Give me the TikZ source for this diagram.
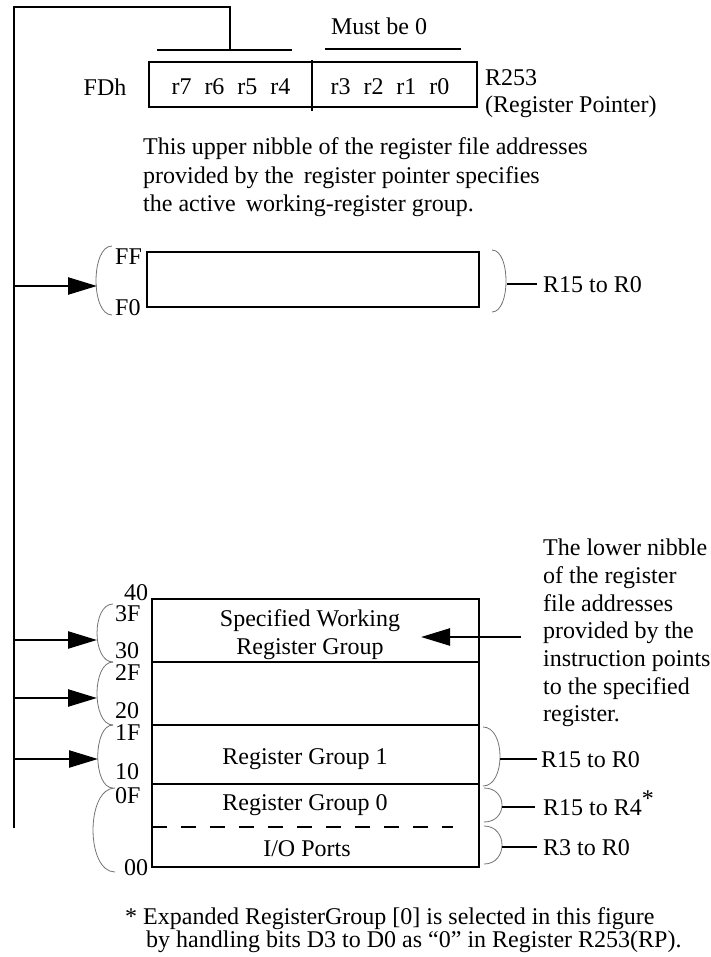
\documentclass[tikz,border=0pt]{standalone}
\usepackage{fontspec}
\setmainfont{Liberation Serif}
\usetikzlibrary{arrows.meta}
\begin{document}
\begin{tikzpicture}[x=1pt,y=-1pt,
  thk/.style={line width=2.4pt},
  paren/.style={line width=0.8pt, draw=black!55},
  arr/.style={thk,-{Triangle[length=29pt,width=17pt]}},
  lbl/.style={inner sep=0pt, anchor=base west, font=\fontsize{24}{28}\selectfont},
  ctr/.style={inner sep=0pt, anchor=base, font=\fontsize{24}{28}\selectfont},
]
\useasboundingbox (0,0) rectangle (711,957);

% main feedback line
\coordinate (lineEnd) at (14,828);
\coordinate (topL) at (14,7);
\coordinate (topR) at (230,7);
\coordinate (barJ) at (230,50);
\draw[thk] (lineEnd) -- (topL) -- (topR) -- (barJ);
\coordinate (b1a) at (157,50); \coordinate (b1b) at (292,50);
\coordinate (b2a) at (325,49); \coordinate (b2b) at (461,49);
\draw[thk] (b1a) -- (b1b);
\draw[thk] (b2a) -- (b2b);
\node[ctr] (must) at (379,35) {Must be 0};

% register pointer
\draw[thk] (149,62) rectangle (477,107);
\coordinate (dv1) at (312,60); \coordinate (dv2) at (312,111);
\draw[thk] (dv1) -- (dv2);
\node[ctr] (fdh) at (105,96) {FDh};
\node[ctr] (hi) at (231,95) {r7\hspace{.54em}r6\hspace{.54em}r5\hspace{.54em}r4};
\node[ctr] (lo) at (390,95) {r3\hspace{.54em}r2\hspace{.54em}r1\hspace{.54em}r0};
\node[lbl] (r253) at (485,86) {R253};
\node[lbl] (rp) at (485,113) {(Register Pointer)};

\node[lbl] (p1) at (143,155) {This upper nibble of the register file addresses};
\node[lbl] (p2) at (143,184) {provided by the\, register pointer specifies};
\node[lbl] (p3) at (143,212) {the active\, working-register group.};

% FF-F0 block
\draw[thk] (147,252) rectangle (479,307);
\node[lbl] (ff) at (115,265) {FF};
\node[lbl] (f0) at (115,315) {F0};
\draw[paren] (112,246) .. controls (90.7,246) and (90.7,315) .. (112,315);
\coordinate (a1s) at (14,286); \coordinate (a1e) at (97,286);
\draw[arr] (a1s) -- (a1e);
\draw[paren] (492,250) .. controls (510.7,250) and (510.7,312) .. (492,312);
\coordinate (c1s) at (507,284); \coordinate (c1e) at (537,284);
\draw[thk] (c1s) -- (c1e);
\node[lbl] (t1) at (543,292) {R15 to R0};

% lower register stack
\draw[thk] (152,599) rectangle (479,867);
\draw[thk] (152,662) -- (479,662);
\draw[thk] (152,725) -- (479,725);
\draw[thk] (152,784) -- (479,784);
\draw[thk, dash pattern=on 15pt off 14pt] (152,827) -- (453,827);

\node[lbl] (l40) at (124,600) {40};
\node[lbl] (l3f) at (115,621) {3F};
\node[lbl] (l30) at (115,658) {30};
\node[lbl] (l2f) at (115,680) {2F};
\node[lbl] (l20) at (115,718) {20};
\node[lbl] (l1f) at (115,740) {1F};
\node[lbl] (l10) at (115,779) {10};
\node[lbl] (l0f) at (115,803) {0F};
\node[lbl] (l00) at (124,875) {00};

\draw[paren] (113,604) .. controls (91.7,604) and (91.7,662) .. (113,662);
\draw[paren] (113,662) .. controls (91.7,662) and (91.7,725) .. (113,725);
\draw[paren] (113,725) .. controls (92.7,725) and (92.7,788) .. (113,788);
\draw[paren] (115,788) .. controls (85.7,788) and (85.7,872) .. (115,872);

\coordinate (a2s) at (14,640); \coordinate (a2e) at (97,640);
\coordinate (a3s) at (14,698); \coordinate (a3e) at (97,698);
\coordinate (a4s) at (14,759); \coordinate (a4e) at (98,759);
\draw[arr] (a2s) -- (a2e);
\draw[arr] (a3s) -- (a3e);
\draw[arr] (a4s) -- (a4e);

\node[ctr] (sw1) at (310,626) {Specified Working};
\node[ctr] (sw2) at (310,654) {Register Group};
\node[ctr] (g1) at (305,764) {Register Group 1};
\node[ctr] (g0) at (305,810) {Register Group 0};
\node[ctr] (io) at (307,856) {I/O Ports};

\coordinate (insS) at (521,637); \coordinate (insE) at (421,637);
\draw[arr] (insS) -- (insE);

\node[lbl] (n1) at (543,555) {The lower nibble};
\node[lbl] (n2) at (543,583) {of the register};
\node[lbl] (n3) at (543,611) {file addresses};
\node[lbl] (n4) at (543,638) {provided by the};
\node[lbl] (n5) at (543,666) {instruction points};
\node[lbl] (n6) at (543,694) {to the specified};
\node[lbl] (n7) at (543,721) {register.};

% right brackets
\draw[paren] (483,727) .. controls (505.7,727) and (505.7,786) .. (483,786);
\draw[paren] (484,788) .. controls (508,788) and (508,822) .. (484,822);
\draw[paren] (484,826) .. controls (508,826) and (508,864) .. (484,864);
\coordinate (c2s) at (500,759); \coordinate (c2e) at (537,759);
\coordinate (c3s) at (502,807); \coordinate (c3e) at (535,807);
\coordinate (c4s) at (502,847); \coordinate (c4e) at (537,847);
\draw[thk] (c2s) -- (c2e);
\draw[thk] (c3s) -- (c3e);
\draw[thk] (c4s) -- (c4e);
\node[lbl] (t2) at (541,767) {R15 to R0};
\node[lbl] (t3) at (543,815) {R15 to R4\raisebox{.35em}{*}};
\node[lbl] (t4) at (543,855) {R3 to R0};

\node[lbl] (fn1) at (125,924) {* Expanded RegisterGroup [0] is selected in this figure};
\node[lbl] (fn2) at (146,947) {by handling bits D3 to D0 as “0” in Register R253(RP).};
\end{tikzpicture}
\end{document}
